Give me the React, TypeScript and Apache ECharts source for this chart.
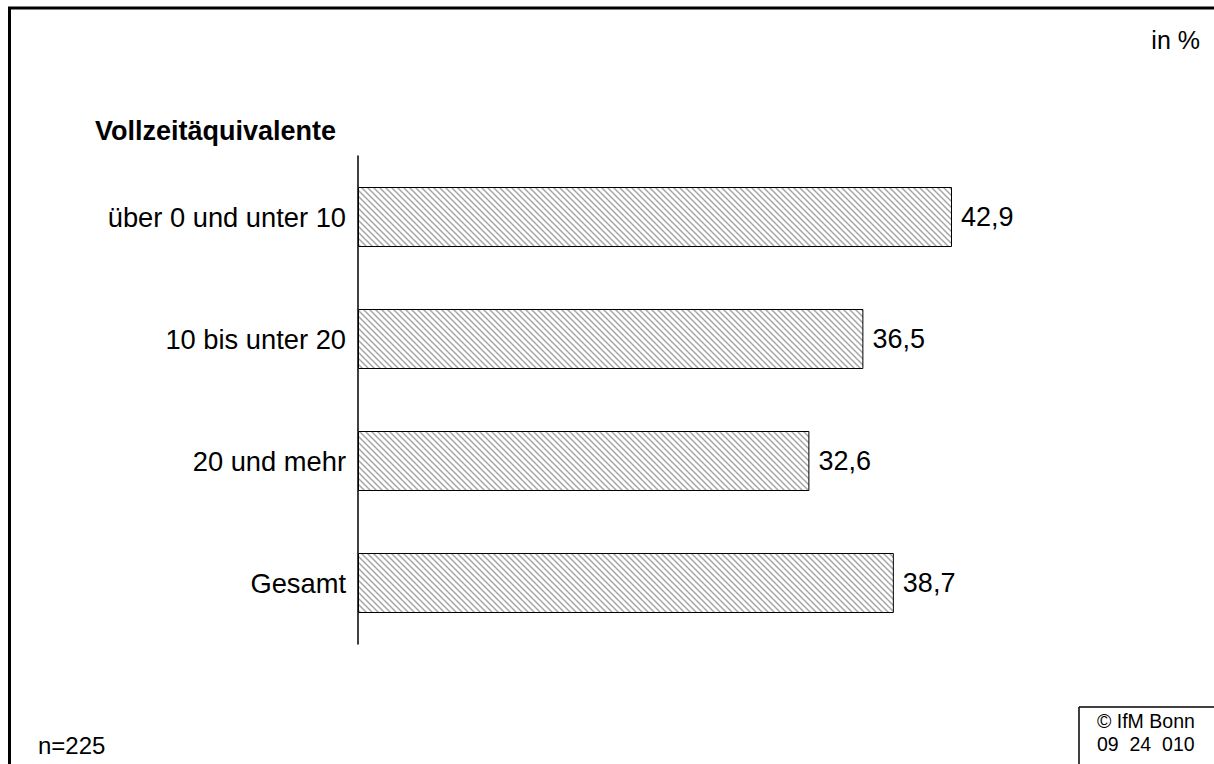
import React, { useEffect, useRef } from "react";
import * as echarts from "echarts";

const categories = ["über 0 und unter 10", "10 bis unter 20", "20 und mehr", "Gesamt"];
const values = [42.9, 36.5, 32.6, 38.7];
const title = "Vollzeitäquivalente";
const unitLabel = "in %";
const sampleLabel = "n=225";
const sourceLines = ["© IfM Bonn", "09  24  010"];

function makeHatch(): HTMLCanvasElement {
  const s = 6;
  const c = document.createElement("canvas");
  c.width = s;
  c.height = s;
  const ctx = c.getContext("2d")!;
  ctx.fillStyle = "#ffffff";
  ctx.fillRect(0, 0, s, s);
  ctx.strokeStyle = "#a6a6a6";
  ctx.lineWidth = 1.5;
  ctx.beginPath();
  ctx.moveTo(-1, -1);
  ctx.lineTo(s + 1, s + 1);
  ctx.moveTo(-1, s - 1);
  ctx.lineTo(1, s + 1);
  ctx.moveTo(s - 1, -1);
  ctx.lineTo(s + 1, 1);
  ctx.stroke();
  return c;
}

export default function App() {
  const ref = useRef<HTMLDivElement>(null);
  useEffect(() => {
    if (!ref.current) return;
    const chart = echarts.init(ref.current, null, { renderer: "svg" });
    const hatch = makeHatch();
    const font = "'Liberation Sans', Arial, sans-serif";
    const pxPerUnit = 594 / 42.9;
    const xMax = 60;
    chart.setOption({
      animation: false,
      backgroundColor: "#ffffff",
      textStyle: { fontFamily: font },
      grid: { left: 358, top: 156, width: xMax * pxPerUnit, height: 488, containLabel: false },
      xAxis: { type: "value", min: 0, max: xMax, show: false },
      yAxis: {
        type: "category",
        data: categories,
        inverse: true,
        axisLine: { show: true, lineStyle: { color: "#000", width: 1.5 } },
        axisTick: { show: false },
        axisLabel: { color: "#000", fontSize: 27.3, fontFamily: font, margin: 12 },
      },
      series: [
        {
          type: "bar",
          data: values,
          barWidth: 60,
          itemStyle: {
            color: { image: hatch, repeat: "repeat", imageWidth: 6, imageHeight: 6 } as any,
            borderColor: "#000",
            borderWidth: 1,
          },
          label: {
            show: true,
            position: "right",
            distance: 9,
            color: "#000",
            fontSize: 27,
            fontFamily: font,
            formatter: (p: any) => String(p.value).replace(".", ","),
          },
        },
      ],
      graphic: [
        { type: "line", shape: { x1: 8, y1: 8, x2: 1214, y2: 8 }, style: { stroke: "#000", lineWidth: 3 } },
        { type: "line", shape: { x1: 9.5, y1: 7, x2: 9.5, y2: 764 }, style: { stroke: "#000", lineWidth: 3 } },
        { type: "line", shape: { x1: 1079, y1: 707, x2: 1214, y2: 707 }, style: { stroke: "#000", lineWidth: 1.5 } },
        { type: "line", shape: { x1: 1079, y1: 707, x2: 1079, y2: 764 }, style: { stroke: "#000", lineWidth: 1.5 } },
        {
          type: "text",
          left: 95,
          top: 117,
          style: { text: title, fontSize: 27, fontWeight: "bold", fill: "#000", fontFamily: font },
        },
        {
          type: "text",
          right: 14,
          top: 27,
          style: { text: unitLabel, fontSize: 25, fill: "#000", fontFamily: font },
        },
        {
          type: "text",
          left: 38,
          top: 733,
          style: { text: sampleLabel, fontSize: 24, fill: "#000", fontFamily: font },
        },
        {
          type: "text",
          left: 1097,
          top: 711,
          style: { text: sourceLines[0], fontSize: 19.5, fill: "#000", fontFamily: font },
        },
        {
          type: "text",
          left: 1097,
          top: 734,
          style: { text: sourceLines[1], fontSize: 19.5, fill: "#000", fontFamily: font },
        },
      ],
    });
    return () => chart.dispose();
  }, []);
  return (
    <div
      ref={ref}
      style={{ position: "absolute", left: 0, top: 0, width: 1214, height: 764 }}
    />
  );
}
